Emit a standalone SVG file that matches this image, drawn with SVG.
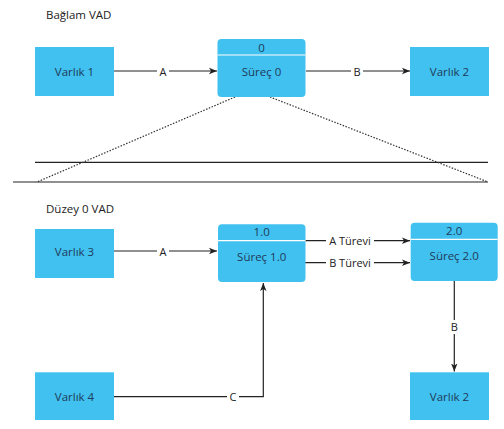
<svg xmlns="http://www.w3.org/2000/svg" width="504" height="429" viewBox="0 0 504 429">
<style>
.ent{fill:#41c1ef}
.proc{fill:#41c1ef}
.div{stroke:#ffffff;stroke-width:1.2}
.t{font-family:"Open Sans","Liberation Sans",sans-serif;font-size:11.5px;fill:#1e3a5a;text-anchor:middle;dominant-baseline:central}
.title{font-family:"Open Sans","Liberation Sans",sans-serif;font-size:11.5px;fill:#222}
.lbl{font-family:"Open Sans","Liberation Sans",sans-serif;font-size:11px;fill:#222;text-anchor:middle;dominant-baseline:central}
.bg{fill:#ffffff}
.c{stroke:#222;stroke-width:1.2;fill:none}
.arr{stroke:#222;stroke-width:1.2;fill:none;marker-end:url(#ah)}
.dot{stroke:#333;stroke-width:1.2;stroke-dasharray:1.5,1.5;fill:none}
</style>
<defs>
<marker id="ah" viewBox="0 0 10 10" refX="10" refY="5" markerWidth="8" markerHeight="8" markerUnits="userSpaceOnUse" orient="auto">
<path d="M0,1 L10,5 L0,9 L2.5,5 Z" fill="#222"/>
</marker>
</defs>
<rect width="504" height="429" fill="#ffffff"/>
<text class="title" x="46" y="19">Bağlam VAD</text>
<text class="title" x="46" y="213">Düzey 0 VAD</text>

<g id="guides">
<line class="c" x1="35" y1="162.3" x2="488" y2="162.3"/>
<line class="c" x1="13" y1="182" x2="488" y2="182"/>
<line class="dot" x1="235" y1="97" x2="37" y2="182"/>
<line class="dot" x1="270" y1="97" x2="488" y2="182"/>
</g>

<g id="connectors">
<line class="arr" x1="114" y1="71" x2="217" y2="71"/>
<rect class="bg" x="157" y="64" width="12" height="14"/>
<text class="lbl" x="163" y="71">A</text>
<line class="arr" x1="306" y1="71" x2="410" y2="71"/>
<rect class="bg" x="351" y="64" width="12" height="14"/>
<text class="lbl" x="357" y="71">B</text>

<line class="arr" x1="114" y1="251" x2="217" y2="251"/>
<rect class="bg" x="157" y="244" width="12" height="14"/>
<text class="lbl" x="163" y="251">A</text>
<line class="arr" x1="305" y1="240.7" x2="410" y2="240.7"/>
<rect class="bg" x="326" y="234" width="48" height="14"/>
<text class="lbl" x="350" y="240.7">A Türevi</text>
<line class="arr" x1="305" y1="262.7" x2="410" y2="262.7"/>
<rect class="bg" x="326" y="256" width="48" height="14"/>
<text class="lbl" x="350" y="262.7">B Türevi</text>

<polyline class="arr" points="114,396.7 263.3,396.7 263.3,283"/>
<rect class="bg" x="227" y="390" width="12" height="14"/>
<text class="lbl" x="233" y="396.7">C</text>
<line class="arr" x1="454.3" y1="281" x2="454.3" y2="371.5"/>
<rect class="bg" x="448" y="320" width="12" height="14"/>
<text class="lbl" x="454.3" y="326.7">B</text>
</g>

<g id="varlik1">
<rect class="ent" x="35" y="47" width="79" height="49"/>
<text class="t" x="74.5" y="71">Varlık 1</text>
</g>
<g id="surec0">
<rect class="proc" x="217.5" y="39" width="88" height="58" rx="4"/>
<line class="div" x1="217.5" y1="55" x2="305.5" y2="55"/>
<text class="t" x="261.5" y="47">0</text>
<text class="t" x="261.5" y="71">Süreç 0</text>
</g>
<g id="varlik2a">
<rect class="ent" x="410" y="47" width="79" height="49"/>
<text class="t" x="449.5" y="71">Varlık 2</text>
</g>

<g id="varlik3">
<rect class="ent" x="35" y="229" width="79" height="49"/>
<text class="t" x="74.5" y="251">Varlık 3</text>
</g>
<g id="surec1">
<rect class="proc" x="218" y="224.3" width="87.5" height="57.7" rx="4"/>
<line class="div" x1="218" y1="240.7" x2="305.5" y2="240.7"/>
<text class="t" x="261.7" y="231.7">1.0</text>
<text class="t" x="261.7" y="256">Süreç 1.0</text>
</g>
<g id="surec2">
<rect class="proc" x="410.7" y="222.7" width="87" height="58.3" rx="4"/>
<line class="div" x1="410.7" y1="239.3" x2="497.7" y2="239.3"/>
<text class="t" x="454.2" y="230.7">2.0</text>
<text class="t" x="454.2" y="255.5">Süreç 2.0</text>
</g>
<g id="varlik4">
<rect class="ent" x="35" y="372.3" width="79" height="47.7"/>
<text class="t" x="74.5" y="396">Varlık 4</text>
</g>
<g id="varlik2b">
<rect class="ent" x="410" y="372.3" width="79" height="47.7"/>
<text class="t" x="449.5" y="396">Varlık 2</text>
</g>
</svg>
